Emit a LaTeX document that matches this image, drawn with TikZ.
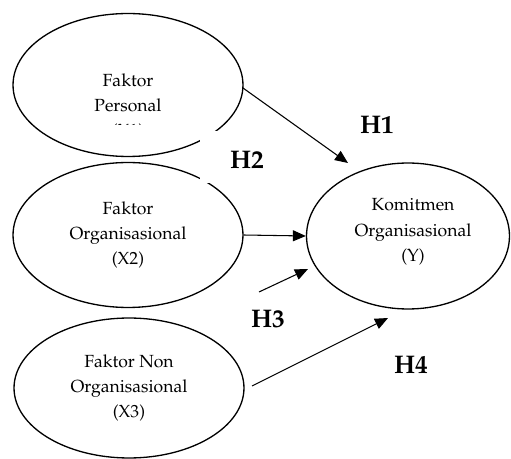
\documentclass[tikz,border=0pt]{standalone}
\usepackage[T1]{fontenc}
\usepackage{mathpazo}
\usepackage{xcolor}
\usepackage{tikz}
\usetikzlibrary{shapes.geometric,arrows.meta}

\tikzset{
	faktor/.style={draw, ellipse, line width=0.75pt, minimum width=4.6cm, minimum height=2.86cm},
	teks/.style={align=center, font=\fontsize{10}{14.5}\selectfont, inner sep=0pt},
	hlabel/.style={font=\fontsize{14.5}{16}\selectfont\bfseries},
	panah/.style={line width=0.6pt, -{Triangle[length=0.26cm, width=0.22cm]}},
	tutup/.style={fill=white, draw=none},
}

\begin{document}
		\begin{tikzpicture}[x=0.02cm, y=-0.02cm]
			\useasboundingbox (0,0) rectangle (511,459);

			\node[faktor] (personal) at (128,85) {};
			\node[teks] (personaltext) at (128,107) {Faktor\\Personal\\(X1)};
			\node[faktor, minimum height=2.9cm] (organisasi) at (128,235) {};
			\node[teks] at (organisasi) {Faktor\\Organisasional\\(X2)};
			\node[faktor, minimum height=2.8cm] (nonorganisasi) at (129,388) {};
			\node[teks] at (nonorganisasi) {Faktor Non\\Organisasional\\(X3)};
			\node[faktor, minimum width=4.06cm, minimum height=2.92cm] (komitmen) at (408,236) {};
			\node[teks] at (413,232) {Komitmen\\Organisasional\\(Y)};

			\fill[tutup] (100,125) rectangle (160,148);
			\fill[tutup] (200,131) rectangle (290,183);

			\coordinate (h1start) at (243,88);
			\coordinate (h1end) at (348,163);
			\coordinate (h3start) at (259,292);
			\coordinate (h3end) at (308,269);
			\coordinate (h4start) at (252,386);
			\coordinate (h4end) at (388,318);

			\draw[panah] (h1start) -- (h1end);
			\draw[panah] (organisasi.east) -- (komitmen.west);
			\draw[panah] (h3start) -- (h3end);
			\draw[panah] (h4start) -- (h4end);

			\node[hlabel] (h1) at (377,125) {H1};
			\node[hlabel] (h2) at (247,160) {H2};
			\node[hlabel] (h3) at (268,319) {H3};
			\node[hlabel] (h4) at (411,365) {H4};
		\end{tikzpicture}
\end{document}
